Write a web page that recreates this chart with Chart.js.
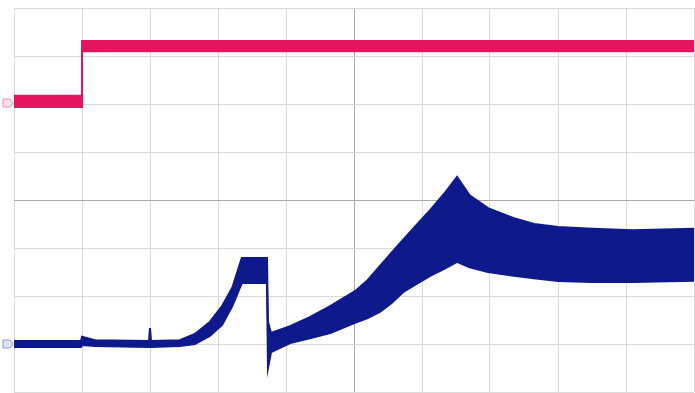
<!DOCTYPE html>
<html>
<head>
<meta charset="utf-8">
<script src="https://cdn.jsdelivr.net/npm/chart.js@4.4.1/dist/chart.umd.min.js"></script>
<style>
  html, body { margin: 0; padding: 0; background: #fff; }
  canvas { display: block; }
</style>
</head>
<body>
<canvas id="scope" width="695" height="393"></canvas>
<script>
// screen is 10 x 8 divisions, values are in divisions (0 = centre line)
const redX = [0, 1, 1, 10];
const redTop = [2.17, 2.17, 3.31, 3.31];
const redBottom = [1.94, 1.94, 3.10, 3.10];

const blueX = [0, 0.985, 1.0, 1.19, 1.985, 2.0, 2.015, 2.44, 2.66, 2.88, 3.06, 3.21, 3.35, 3.72,
  3.735, 3.78, 4.06, 4.35, 4.65, 5.015, 5.2, 5.38, 5.55, 5.72, 5.92, 6.12, 6.32, 6.515,
  6.7, 6.97, 7.35, 7.65, 8.0, 8.5, 9.1, 10];
const blueTop = [-2.94, -2.94, -2.85, -2.92, -2.94, -2.67, -2.94, -2.92, -2.79, -2.54, -2.21, -1.83, -1.21, -1.21,
  -2.54, -2.77, -2.63, -2.44, -2.21, -1.90, -1.67, -1.38, -1.10, -0.83, -0.52, -0.21, 0.12, 0.48,
  0.10, -0.17, -0.38, -0.50, -0.56, -0.60, -0.63, -0.60];
const blueBottom = [-3.06, -3.06, -3.02, -3.04, -3.06, -3.06, -3.06, -3.04, -3.00, -2.83, -2.60, -2.21, -1.73, -1.73,
  -3.50, -3.17, -2.98, -2.88, -2.77, -2.56, -2.46, -2.33, -2.15, -1.92, -1.75, -1.58, -1.44, -1.29,
  -1.40, -1.50, -1.58, -1.63, -1.69, -1.71, -1.71, -1.68];

// channel ground markers on the left edge
const markerY = { red: 2.02, blue: -3.0 };

const RED = '#e4155f';
const BLUE = '#0e1a8c';

function pts(xs, ys) {
  return xs.map((x, i) => ({ x, y: ys[i] }));
}

function band(xs, ys, color, fill) {
  return {
    data: pts(xs, ys),
    borderColor: color,
    backgroundColor: color,
    borderWidth: 2,
    pointRadius: 0,
    tension: 0,
    fill: fill,
  };
}

// the ground markers sit outside the plot area, so draw them by hand
const groundMarkers = {
  id: 'groundMarkers',
  afterDatasetsDraw(chart) {
    const { ctx, chartArea, scales } = chart;
    const items = [
      [markerY.red, '#ee8cb0', '#fbe2ec'],
      [markerY.blue, '#8c93d8', '#e0e3f7'],
    ];
    items.forEach(([v, line, face]) => {
      const y = scales.y.getPixelForValue(v);
      const x = chartArea.left - 11;
      ctx.save();
      ctx.beginPath();
      ctx.moveTo(x, y - 4);
      ctx.lineTo(x + 7, y - 4);
      ctx.lineTo(x + 10, y);
      ctx.lineTo(x + 7, y + 4);
      ctx.lineTo(x, y + 4);
      ctx.closePath();
      ctx.fillStyle = face;
      ctx.strokeStyle = line;
      ctx.lineWidth = 1;
      ctx.fill();
      ctx.stroke();
      ctx.restore();
    });
  },
};

const gridColor = centre => ctx => (ctx.tick && ctx.tick.value === centre ? '#a9a9a9' : '#dadada');

const config = {
  type: 'line',
  data: {
    datasets: [
      band(blueX, blueBottom, BLUE, false),
      band(blueX, blueTop, BLUE, '-1'),
      band(redX, redBottom, RED, false),
      band(redX, redTop, RED, '-1'),
    ],
  },
  options: {
    responsive: false,
    animation: false,
    events: [],
    layout: { autoPadding: false, padding: { left: 14, top: 8, right: 1, bottom: 1 } },
    plugins: {
      legend: { display: false },
      tooltip: { enabled: false },
    },
    scales: {
      x: {
        type: 'linear',
        min: 0,
        max: 10,
        ticks: { display: false, stepSize: 1 },
        grid: { color: gridColor(5), lineWidth: 1, drawTicks: false },
        border: { display: false },
      },
      y: {
        type: 'linear',
        min: -4,
        max: 4,
        ticks: { display: false, stepSize: 1 },
        grid: { color: gridColor(0), lineWidth: 1, drawTicks: false },
        border: { display: false },
      },
    },
  },
  plugins: [groundMarkers],
};

new Chart(document.getElementById('scope'), config);
</script>
</body>
</html>
